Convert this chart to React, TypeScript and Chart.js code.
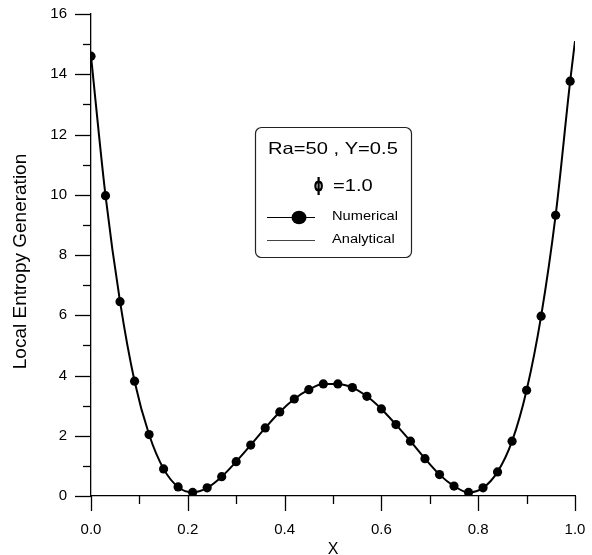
import React, { useEffect, useRef } from "react";
import { Chart, registerables } from "chart.js";

Chart.register(...registerables);

// ---- Data ----
const numericalX = [
  0.0, 0.03, 0.06, 0.09, 0.12, 0.15, 0.18, 0.21, 0.24, 0.27, 0.3, 0.33,
  0.36, 0.39, 0.42, 0.45, 0.48, 0.51, 0.54, 0.57, 0.6, 0.63, 0.66, 0.69,
  0.72, 0.75, 0.78, 0.81, 0.84, 0.87, 0.9, 0.93, 0.96, 0.99,
];
const numericalY = [
  14.6, 9.97, 6.45, 3.81, 2.04, 0.9, 0.3, 0.12, 0.27, 0.64, 1.14, 1.69,
  2.26, 2.79, 3.22, 3.53, 3.72, 3.72, 3.6, 3.31, 2.89, 2.37, 1.82, 1.24,
  0.71, 0.33, 0.12, 0.27, 0.8, 1.82, 3.51, 5.97, 9.32, 13.77,
];
const analyticalX = [
  0.0, 0.03, 0.06, 0.09, 0.12, 0.15, 0.18, 0.21, 0.24, 0.27, 0.3, 0.33,
  0.36, 0.39, 0.42, 0.45, 0.48, 0.51, 0.54, 0.57, 0.6, 0.63, 0.66, 0.69,
  0.72, 0.75, 0.78, 0.81, 0.84, 0.87, 0.9, 0.93, 0.96, 0.99, 1.0,
];
const analyticalY = [
  14.6, 9.97, 6.45, 3.81, 2.04, 0.9, 0.3, 0.12, 0.27, 0.64, 1.14, 1.69,
  2.26, 2.79, 3.22, 3.53, 3.72, 3.72, 3.6, 3.31, 2.89, 2.37, 1.82, 1.24,
  0.71, 0.33, 0.12, 0.27, 0.8, 1.82, 3.51, 5.97, 9.32, 13.77, 15.1,
];
const xTickValues = [0, 0.2, 0.4, 0.6, 0.8, 1.0];
const yTickValues = [0, 2, 4, 6, 8, 10, 12, 14, 16];
const xTitle = "X";
const yTitle = "Local Entropy Generation";
const legendTitle = "Ra=50 , Y=0.5";
const legendPhi = "\u03D5";
const legendPhiValue = "=1.0";
const seriesNames = ["Numerical", "Analytical"];

const FONT = "'Liberation Sans', Arial, Helvetica, sans-serif";

function stretchedText(ctx: any, text: string, x: number, y: number, sx: number) {
  ctx.save();
  ctx.translate(x, y);
  ctx.scale(sx, 1);
  ctx.fillText(text, 0, 0);
  ctx.restore();
}

const tickMarksPlugin = {
  id: "tickMarks",
  afterDraw(chart: any) {
    const ctx = chart.ctx;
    const xs = chart.scales.x;
    const ys = chart.scales.y;
    const area = chart.chartArea;
    ctx.save();
    ctx.strokeStyle = "#000";
    ctx.lineWidth = 1.3;
    for (let v = 0; v <= 16; v += 1) {
      const y = Math.round(ys.getPixelForValue(v)) + 0.5;
      const len = v % 2 === 0 ? 16 : 8;
      ctx.beginPath();
      ctx.moveTo(area.left - len, y);
      ctx.lineTo(area.left, y);
      ctx.stroke();
    }
    for (let i = 0; i <= 10; i++) {
      const x = Math.round(xs.getPixelForValue(i / 10)) + 0.5;
      const len = i % 2 === 0 ? 15 : 8;
      ctx.beginPath();
      ctx.moveTo(x, area.bottom);
      ctx.lineTo(x, area.bottom + len);
      ctx.stroke();
    }
    // y axis title
    ctx.fillStyle = "#000";
    ctx.font = `19px ${FONT}`;
    ctx.textAlign = "center";
    ctx.textBaseline = "middle";
    ctx.translate(20.5, 261.5);
    ctx.rotate(-Math.PI / 2);
    ctx.fillText(yTitle, 0, 0);
    ctx.restore();
  },
};

const legendBoxPlugin = {
  id: "legendBox",
  afterDraw(chart: any) {
    const ctx = chart.ctx;
    ctx.save();
    const bx = 255.5, by = 127.5, bw = 156, bh = 130, r = 6;
    ctx.strokeStyle = "#222";
    ctx.lineWidth = 1.2;
    ctx.beginPath();
    ctx.moveTo(bx + r, by);
    ctx.lineTo(bx + bw - r, by);
    ctx.arcTo(bx + bw, by, bx + bw, by + r, r);
    ctx.lineTo(bx + bw, by + bh - r);
    ctx.arcTo(bx + bw, by + bh, bx + bw - r, by + bh, r);
    ctx.lineTo(bx + r, by + bh);
    ctx.arcTo(bx, by + bh, bx, by + bh - r, r);
    ctx.lineTo(bx, by + r);
    ctx.arcTo(bx, by, bx + r, by, r);
    ctx.closePath();
    ctx.stroke();

    ctx.fillStyle = "#000";
    ctx.textBaseline = "middle";
    ctx.textAlign = "left";
    ctx.font = `16.5px ${FONT}`;
    stretchedText(ctx, legendTitle, 268, 149.5, 1.22);

    ctx.font = `bold 18px 'DejaVu Sans', ${FONT}`;
    stretchedText(ctx, legendPhi, 313.5, 186.5, 0.72);
    ctx.font = `16.5px ${FONT}`;
    stretchedText(ctx, legendPhiValue, 333, 186.5, 1.22);

    ctx.strokeStyle = "#000";
    ctx.lineWidth = 1;
    ctx.beginPath();
    ctx.moveTo(267, 217.5);
    ctx.lineTo(315, 217.5);
    ctx.stroke();
    ctx.beginPath();
    ctx.ellipse(299, 217.5, 7.5, 6.8, 0, 0, Math.PI * 2);
    ctx.fill();

    ctx.strokeStyle = "#444";
    ctx.beginPath();
    ctx.moveTo(267, 240.5);
    ctx.lineTo(315, 240.5);
    ctx.stroke();

    ctx.font = `12px ${FONT}`;
    stretchedText(ctx, seriesNames[0], 332, 217, 1.22);
    stretchedText(ctx, seriesNames[1], 332, 240, 1.22);
    ctx.restore();
  },
};

export default function App() {
  const canvasRef = useRef<HTMLCanvasElement | null>(null);

  useEffect(() => {
    if (!canvasRef.current) return;
    const numericalData = numericalX.map((x, i) => ({ x, y: numericalY[i] }));
    const analyticalData = analyticalX.map((x, i) => ({ x, y: analyticalY[i] }));

    const chart = new Chart(canvasRef.current, {
      type: "scatter",
      data: {
        datasets: [
          {
            label: seriesNames[0],
            data: numericalData,
            showLine: false,
            pointRadius: 4.6,
            pointBackgroundColor: "#000",
            pointBorderColor: "#000",
            pointBorderWidth: 0,
            order: 0,
          },
          {
            label: seriesNames[1],
            data: analyticalData,
            showLine: true,
            pointRadius: 0,
            borderColor: "#000",
            borderWidth: 2,
            cubicInterpolationMode: "monotone",
            fill: false,
            order: 1,
          },
        ],
      },
      options: {
        animation: false,
        responsive: true,
        maintainAspectRatio: false,
        events: [],
        layout: { padding: { left: 0, top: 14, right: 17, bottom: 0 } },
        plugins: {
          legend: { display: false },
          tooltip: { enabled: false },
          title: { display: false },
        },
        scales: {
          x: {
            type: "linear",
            min: 0,
            max: 1,
            afterFit: (s: any) => {
              s.height = 59;
              s.paddingLeft = 0;
              s.paddingRight = 0;
            },
            afterBuildTicks: (s: any) => {
              s.ticks = xTickValues.map((v) => ({ value: v }));
            },
            grid: { display: false, drawTicks: false },
            border: { display: true, color: "#000", width: 1.3 },
            ticks: {
              padding: 25,
              color: "#000",
              font: { family: FONT, size: 15 },
              callback: (v: any) => Number(v).toFixed(1),
              maxRotation: 0,
            },
            title: {
              display: true,
              text: xTitle,
              color: "#000",
              font: { family: FONT, size: 16 },
              padding: { top: 0, bottom: -4 },
            },
          },
          y: {
            type: "linear",
            min: 0,
            max: 16,
            afterFit: (s: any) => {
              s.width = 91;
              s.paddingTop = 0;
              s.paddingBottom = 0;
            },
            afterBuildTicks: (s: any) => {
              s.ticks = yTickValues.map((v) => ({ value: v }));
            },
            grid: { display: false, drawTicks: false },
            border: { display: true, color: "#000", width: 1.3 },
            ticks: {
              padding: 24,
              color: "#000",
              font: { family: FONT, size: 15 },
              callback: (v: any) => String(v),
            },
            title: { display: false },
          },
        },
      },
      plugins: [tickMarksPlugin, legendBoxPlugin],
    });
    return () => chart.destroy();
  }, []);

  return (
    <div
      style={{
        position: "absolute",
        left: 0,
        top: 0,
        width: 592,
        height: 555,
        background: "#fff",
      }}
    >
      <canvas ref={canvasRef} />
    </div>
  );
}
